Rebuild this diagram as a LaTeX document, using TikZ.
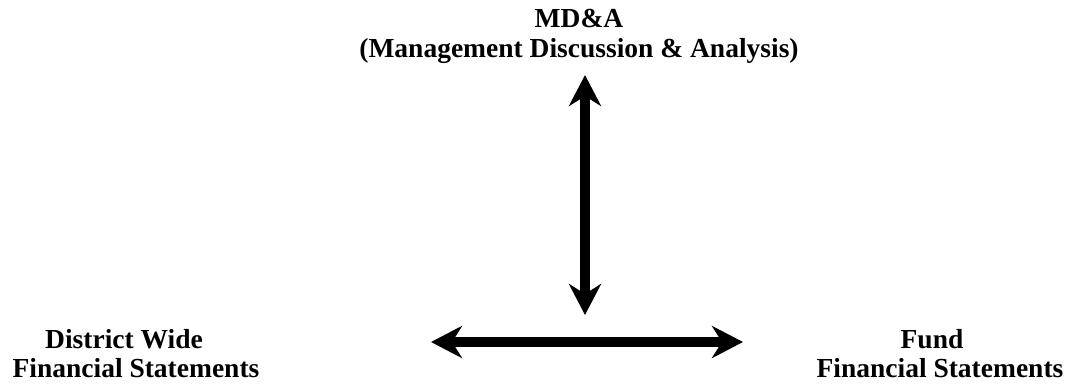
\documentclass[tikz,border=0pt]{standalone}
\usepackage{fontspec}
\setmainfont{Liberation Serif}
\usetikzlibrary{arrows.meta}
\tikzset{
  lbl/.style={inner sep=0pt, anchor=base, font=\fontsize{27.5bp}{32bp}\selectfont\bfseries},
  bigarrow/.style={line width=10bp, {Stealth[length=31bp, width=32bp, inset=10bp]}-{Stealth[length=31bp, width=32bp, inset=10bp]}}
}
\begin{document}
\begin{tikzpicture}[x=1bp, y=-1bp]
\useasboundingbox (0,0) rectangle (1075,388);
\node[lbl] (mda1) at (579,27) {MD\&A};
\node[lbl] (mda2) at (579,57) {(Management Discussion \& Analysis)};
\node[lbl] (dw1) at (124,348) {District Wide};
\node[lbl] (dw2) at (136,377) {Financial Statements};
\node[lbl] (fu1) at (932,348) {Fund};
\node[lbl] (fu2) at (940,377) {Financial Statements};
\coordinate (vtop) at (585,75);
\coordinate (vbot) at (585,315);
\coordinate (hl) at (431,342);
\coordinate (hr) at (743,342);
\draw[bigarrow] (vtop) -- (vbot);
\draw[bigarrow] (hl) -- (hr);
\end{tikzpicture}
\end{document}
